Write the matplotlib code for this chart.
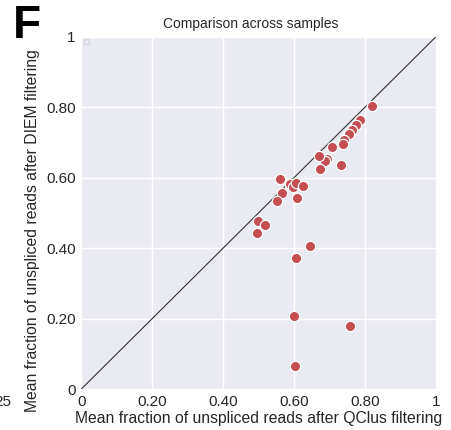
import numpy as np
import matplotlib.pyplot as plt

# mean fraction of unspliced reads per sample
qclus = [0.819, 0.786, 0.774, 0.763, 0.755, 0.741, 0.737, 0.708, 0.692, 0.687,
         0.671, 0.673, 0.732, 0.559, 0.588, 0.596, 0.605, 0.624, 0.566, 0.551,
         0.607, 0.499, 0.518, 0.495, 0.645, 0.606, 0.599, 0.757, 0.602]
diem = [0.803, 0.763, 0.748, 0.735, 0.725, 0.706, 0.695, 0.686, 0.652, 0.648,
        0.660, 0.625, 0.635, 0.596, 0.581, 0.574, 0.585, 0.576, 0.557, 0.535,
        0.541, 0.477, 0.466, 0.444, 0.405, 0.373, 0.208, 0.179, 0.066]

ticks = [0, 0.2, 0.4, 0.6, 0.8, 1]
tick_labels = ["0", "0.20", "0.40", "0.60", "0.80", "1"]


def main():
    plt.rcParams["font.family"] = ["Liberation Sans", "DejaVu Sans"]
    fig = plt.figure(figsize=(4.51, 4.30), dpi=100)
    ax = fig.add_axes([0.180, 0.095, 0.787, 0.820])
    ax.set_facecolor("#EAEAF2")
    for s in ax.spines.values():
        s.set_visible(False)
    ax.grid(True, color="white", linewidth=1.0)
    ax.set_axisbelow(True)

    ax.plot([0, 1], [0, 1], color="#333333", linewidth=0.8, zorder=2)
    ax.scatter(qclus, diem, s=55, color="#C44E52", edgecolor="white",
               linewidth=0.9, zorder=3)

    ax.set_xlim(0, 1)
    ax.set_ylim(0, 1)
    ax.set_xticks(ticks)
    ax.set_xticklabels(tick_labels)
    ax.set_yticks(ticks)
    ax.set_yticklabels(tick_labels)
    ax.tick_params(length=0, labelsize=11, colors="#262626", pad=4)

    ax.set_title("Comparison across samples", fontsize=10, color="#262626",
                 pad=6, x=0.478)
    ax.set_xlabel("Mean fraction of unspliced reads after QClus filtering",
                  fontsize=11.3, color="#262626", labelpad=2)
    ax.set_ylabel("Mean fraction of unspliced reads after DIEM filtering",
                  fontsize=11.3, color="#262626")
    ax.yaxis.set_label_coords(-0.115, 0.45)

    leg = ax.legend(handles=[], loc="upper left", frameon=True, fontsize=3,
                    borderpad=0.6, borderaxespad=0.6)
    leg.get_frame().set_edgecolor("#D0D0D8")
    leg.get_frame().set_facecolor("#EAEAF2")

    fig.text(0.028, 0.99, "F", fontsize=33, fontweight="bold", va="top", ha="left")
    fig.text(-0.012, 0.055, "25", fontsize=11, color="#262626", ha="left")

    fig.savefig("out.png", dpi=100)
    plt.close(fig)


if __name__ == "__main__":
    main()
